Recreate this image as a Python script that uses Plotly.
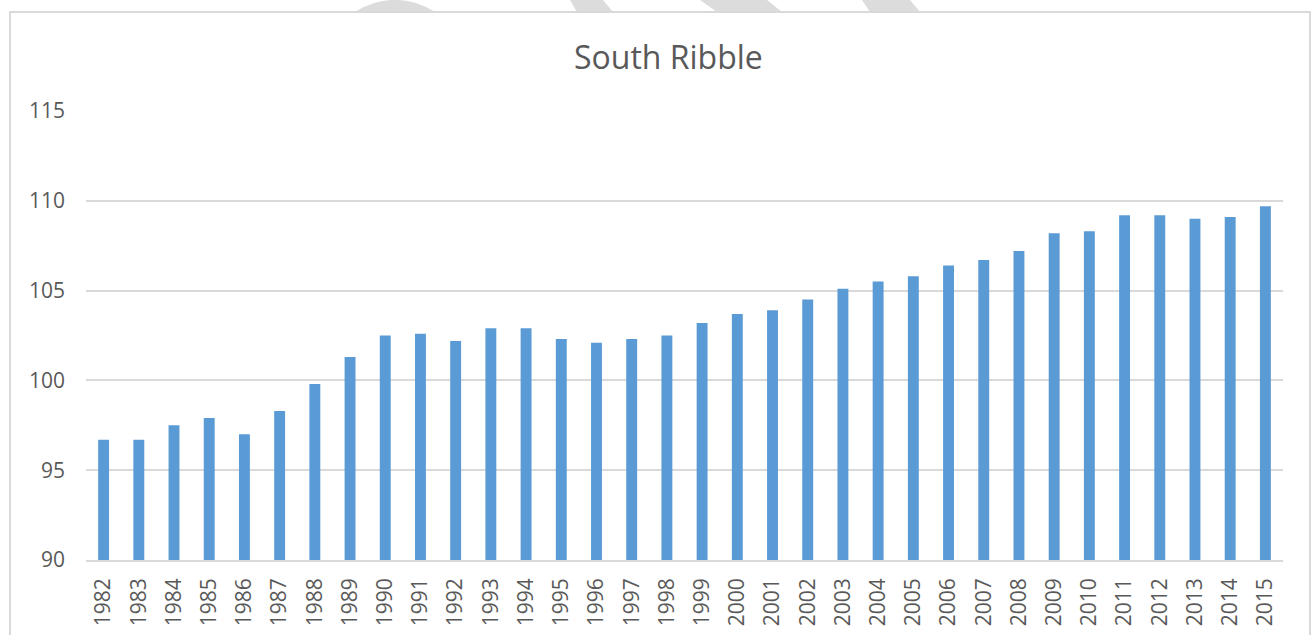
import math
import plotly.graph_objects as go

# Annual index values for South Ribble
years = [str(y) for y in range(1982, 2016)]
values = [96.7, 96.7, 97.5, 97.9, 97.0, 98.3, 99.8, 101.3, 102.5, 102.6,
          102.2, 102.9, 102.9, 102.3, 102.1, 102.3, 102.5, 103.2, 103.7, 103.9,
          104.5, 105.1, 105.5, 105.8, 106.4, 106.7, 107.2, 108.2, 108.3, 109.2,
          109.2, 109.0, 109.1, 109.7]

y_ticks = [90, 95, 100, 105, 110, 115]

W, H = 1312, 635
ML, MR, MT, MB = 86, 29, 111, 75
PW, PH = W - ML - MR, H - MT - MB


def px(x):
    return (x - ML) / PW


def py(y):
    return (H - MB - y) / PH


BAR = "#5B9BD5"
GRID = "#D9D9D9"
TEXT = "#595959"
FONT = "Open Sans"
FRAME_TOP = 12

fig = go.Figure(go.Bar(x=years, y=values, marker=dict(color=BAR, line=dict(width=0))))

# light grey background pieces visible above the chart frame
wm = "#DCDCDC"
cx, cy, r = 395, 72, 72
half = math.sqrt(r * r - (cy - FRAME_TOP) ** 2)
a0 = math.atan2(cy - FRAME_TOP, -half)
a1 = math.atan2(cy - FRAME_TOP, half)
pts = []
for i in range(41):
    a = a0 + (a1 - a0) * i / 40
    pts.append((cx + r * math.cos(a), cy - r * math.sin(a)))
arc = "M " + " L ".join(f"{px(x)} {py(y)}" for x, y in pts) + " Z"
shapes = [dict(type="path", xref="paper", yref="paper", layer="below",
               path=arc, fillcolor=wm, line=dict(width=0))]
for (tl, tr, bl, br) in [(570, 603, 577, 613), (700, 767, 717, 782), (862, 910, 870, 920)]:
    path = (f"M {px(tl)} {py(0)} L {px(tr)} {py(0)} "
            f"L {px(br)} {py(FRAME_TOP)} L {px(bl)} {py(FRAME_TOP)} Z")
    shapes.append(dict(type="path", xref="paper", yref="paper", layer="below",
                       path=path, fillcolor=wm, line=dict(width=0)))
# chart frame
shapes.append(dict(type="rect", xref="paper", yref="paper", layer="below",
                   x0=px(10), x1=px(1310), y0=py(660), y1=py(FRAME_TOP),
                   line=dict(color=GRID, width=2)))

fig.update_layout(
    width=W, height=H,
    margin=dict(l=ML, r=MR, t=MT, b=MB, pad=0, autoexpand=False),
    paper_bgcolor="white", plot_bgcolor="white",
    bargap=0.69,
    showlegend=False,
    shapes=shapes,
    font=dict(family=FONT, color=TEXT),
    annotations=[dict(text="South Ribble", xref="paper", yref="paper",
                      x=px(668), y=py(57), xanchor="center", yanchor="middle",
                      showarrow=False, font=dict(family=FONT, size=32, color=TEXT))],
)

fig.update_xaxes(
    type="category", tickangle=-90, showgrid=False, automargin=False,
    showline=True, linecolor=GRID, linewidth=1.5,
    ticks="", ticklabelstandoff=8,
    tickfont=dict(family=FONT, size=21, color=TEXT),
)
fig.update_yaxes(
    range=[90, 115], tickvals=y_ticks, ticktext=[str(v) for v in y_ticks],
    showgrid=True, gridcolor=GRID, gridwidth=1.5, automargin=False,
    zeroline=False, showline=False, ticks="", ticklabelstandoff=20,
    tickfont=dict(family=FONT, size=21, color=TEXT),
)

fig.write_html("out.html")
